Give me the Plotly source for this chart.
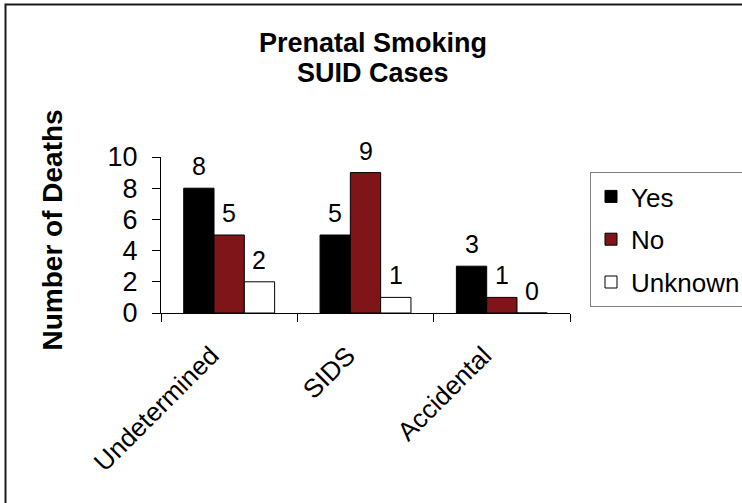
import plotly.graph_objects as go

# Data
categories = ["Undetermined", "SIDS", "Accidental"]
series_names = ["Yes", "No", "Unknown"]
yes_vals = [8, 5, 3]
no_vals = [5, 9, 1]
unknown_vals = [2, 1, 0]
y_ticks = [0, 2, 4, 6, 8, 10]

values = [yes_vals, no_vals, unknown_vals]
fills = ["#000000", "#7F1518", "#FFFFFF"]

FONT = "Liberation Sans, Arial, sans-serif"
W, H = 742, 503
ML, MR, MT, MB = 161, 172, 157, 190
PW = W - ML - MR
PH = H - MT - MB


def px_to_paper_x(px):
    return (px - ML) / PW


def px_to_paper_y(py):
    return (H - MB - py) / PH


fig = go.Figure()
for name, vals, col in zip(series_names, values, fills):
    fig.add_trace(go.Bar(
        name=name,
        x=categories,
        y=vals,
        marker=dict(color=col, line=dict(color="#000000", width=1)),
        legendgroup=name,
    ))

# value labels above each bar (grouped bars: 3 per category, bargap 1/3)
bargap = 1 / 3
bar_w = (1 - bargap) / len(series_names)
annotations = []
for j, vals in enumerate(values):
    off = (j - (len(series_names) - 1) / 2) * bar_w
    for i, v in enumerate(vals):
        annotations.append(dict(
            x=i + off, y=v, xref="x", yref="y",
            text=str(v), showarrow=False,
            yanchor="bottom", yshift=6,
            font=dict(family=FONT, size=25, color="#000000"),
        ))

# two-line title
annotations.append(dict(
    x=px_to_paper_x(373), y=px_to_paper_y(43), xref="paper", yref="paper",
    text="<b>Prenatal Smoking</b>", showarrow=False,
    xanchor="center", yanchor="middle",
    font=dict(family=FONT, size=27, color="#000000"),
))
annotations.append(dict(
    x=px_to_paper_x(373), y=px_to_paper_y(73), xref="paper", yref="paper",
    text="<b>SUID Cases</b>", showarrow=False,
    xanchor="center", yanchor="middle",
    font=dict(family=FONT, size=27, color="#000000"),
))
# y-axis title
annotations.append(dict(
    x=px_to_paper_x(52), y=px_to_paper_y(230.5), xref="paper", yref="paper",
    text="<b>Number of Deaths</b>", showarrow=False, textangle=-90,
    xanchor="center", yanchor="middle",
    font=dict(family=FONT, size=28, color="#000000"),
))

fig.update_layout(
    width=W, height=H,
    margin=dict(l=ML, r=MR, t=MT, b=MB, autoexpand=False),
    paper_bgcolor="#FFFFFF",
    plot_bgcolor="#FFFFFF",
    barmode="group",
    bargap=bargap,
    bargroupgap=0,
    font=dict(family=FONT, size=25, color="#000000"),
    showlegend=True,
    legend=dict(
        x=px_to_paper_x(590), y=px_to_paper_y(172),
        xanchor="left", yanchor="top",
        bordercolor="#808080", borderwidth=1,
        bgcolor="#FFFFFF",
        font=dict(family=FONT, size=26, color="#000000"),
        tracegroupgap=6,
        traceorder="grouped",
    ),
    xaxis=dict(
        type="category",
        tickson="boundaries",
        ticks="outside", ticklen=8, tickcolor="#000000",
        showline=True, linecolor="#000000", linewidth=1,
        showgrid=False, zeroline=False,
        tickangle=-45,
        tickfont=dict(family=FONT, size=26),
        ticklabelshift=-18,
        ticklabelstandoff=16,
    ),
    yaxis=dict(
        range=[0, 10],
        tickvals=y_ticks,
        ticks="outside", ticklen=8, tickcolor="#000000",
        showline=True, linecolor="#000000", linewidth=1,
        showgrid=False, zeroline=False,
        tickfont=dict(family=FONT, size=27),
        ticklabelstandoff=9,
    ),
    annotations=annotations,
    shapes=[dict(
        type="rect", xref="paper", yref="paper",
        x0=px_to_paper_x(5.5), x1=px_to_paper_x(800),
        y0=px_to_paper_y(560), y1=px_to_paper_y(4.5),
        line=dict(color="#1a1a1a", width=2),
        fillcolor="rgba(0,0,0,0)",
        layer="below",
    )],
)

fig.write_html("out.html")
